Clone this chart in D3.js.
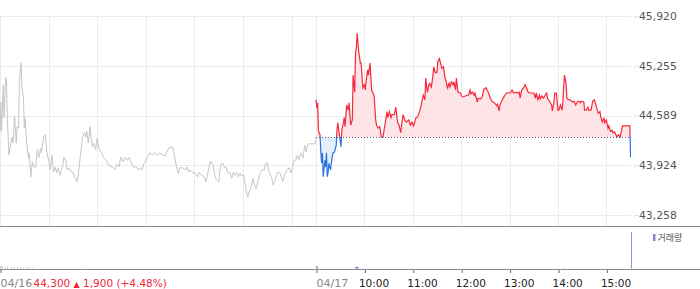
<!DOCTYPE html>
<html>
<head>
<meta charset="utf-8">
<script src="https://cdn.jsdelivr.net/npm/d3@7"></script>
<style>
  body { margin: 0; background: #fff; }
  svg { display: block; font-family: "DejaVu Sans", sans-serif; }
</style>
</head>
<body>
<div id="chart"></div>
<script>
// [minutes after 09:00, price] for each session
const day1 = [[0,44360],[1,44760],[2,44390],[4,45000],[5,44560],[7,45100],[8,45040],[9,44570],[11,44060],[14,44260],[15,44300],[16,44220],[18,44580],[20,44220],[21,44440],[23,44420],[24,45060],[26,45290],[27,44970],[29,44820],[30,44420],[31,44560],[33,44220],[35,44020],[36,44090],[38,43770],[40,43970],[42,43900],[44,43900],[46,44130],[48,44030],[50,44150],[51,44090],[54,44300],[56,44330],[58,44090],[60,43990],[62,43860],[64,44060],[66,43830],[68,43900],[70,43820],[72,43890],[74,43790],[77,43900],[79,44030],[81,43990],[83,43860],[85,43890],[88,43830],[90,43830],[92,43770],[95,43700],[97,43820],[99,44030],[101,44220],[102,44290],[104,44360],[106,44300],[107,44380],[109,44220],[111,44440],[112,44330],[114,44170],[116,44220],[118,44130],[120,44290],[122,44150],[125,44090],[128,44020],[131,43990],[134,43930],[137,43910],[140,43890],[142,43860],[144,43940],[147,43900],[149,44030],[152,43970],[154,44030],[157,43990],[159,44030],[161,43990],[163,43930],[165,43900],[168,43900],[171,43860],[173,43890],[175,43860],[178,43950],[182,44030],[185,44090],[188,44060],[191,44090],[194,44060],[197,44090],[201,44060],[204,44050],[208,44150],[213,44170],[215,44060],[218,43900],[220,43810],[222,43890],[225,43890],[229,43860],[231,43900],[233,43830],[235,43860],[238,43820],[241,43820],[244,43770],[246,43830],[249,43790],[252,43770],[254,43700],[256,43790],[258,43900],[260,43980],[263,43930],[265,43790],[267,43730],[270,43700],[271,43830],[273,43940],[275,43950],[277,43890],[279,43900],[281,43830],[284,43820],[286,43750],[288,43830],[290,43790],[292,43830],[294,43770],[296,43820],[298,43780],[301,43790],[302,43700],[304,43570],[306,43500],[307,43550],[310,43630],[312,43750],[314,43660],[316,43610],[318,43690],[320,43790],[322,43830],[324,43870],[326,43860],[328,43950],[330,43950],[332,43830],[335,43770],[337,43660],[340,43730],[342,43820],[345,43830],[347,43770],[349,43700],[352,43820],[354,43860],[357,43890],[359,43820],[361,43890],[363,43990],[365,43990],[367,44060],[369,43990],[371,44090],[374,44020],[376,44190],[378,44100],[380,44210],[389,44210],[390,44300]];

const day2 = [[0,44800],[1,44690],[2,44760],[3,44390],[5,44330],[6,44090],[7,43950],[8,44090],[9,43770],[11,43990],[12,43900],[13,44090],[14,43770],[15,43830],[16,43950],[18,43860],[20,44030],[21,44090],[23,44100],[25,44190],[26,44390],[27,44490],[29,44330],[31,44170],[32,44390],[33,44440],[35,44560],[36,44440],[38,44730],[40,44660],[41,44760],[43,44460],[45,44530],[46,45130],[48,44900],[49,45420],[50,45500],[51,45690],[53,45440],[55,45290],[56,45290],[58,44960],[60,45000],[61,44930],[62,45040],[64,45200],[65,45130],[67,45290],[69,44930],[70,44900],[72,44860],[74,44530],[75,44460],[77,44420],[79,44440],[81,44300],[83,44300],[86,44500],[88,44640],[89,44560],[91,44640],[93,44560],[94,44600],[97,44600],[99,44700],[101,44500],[103,44460],[105,44360],[107,44530],[108,44600],[110,44530],[112,44500],[115,44530],[117,44460],[119,44500],[121,44450],[124,44560],[126,44570],[129,44660],[131,44760],[133,44860],[135,44800],[136,45090],[138,44900],[140,45000],[141,45020],[143,44970],[145,45130],[146,45240],[148,45160],[150,45170],[151,45310],[153,45350],[155,45260],[156,45220],[158,45240],[160,45090],[161,45060],[163,44960],[165,45020],[166,44970],[168,45040],[170,45000],[171,45040],[173,44930],[174,45090],[176,44900],[179,44890],[181,44840],[183,44840],[187,44860],[189,44860],[191,44930],[192,44880],[194,44900],[196,44860],[197,44890],[200,44770],[201,44820],[204,44810],[206,44840],[208,44940],[211,44960],[212,44930],[214,44890],[216,44820],[219,44770],[221,44760],[224,44720],[225,44740],[227,44650],[228,44730],[231,44800],[233,44840],[236,44890],[238,44890],[241,44890],[243,44930],[245,44890],[248,44900],[250,44890],[252,44900],[253,44820],[255,44930],[258,44970],[259,45000],[261,44960],[263,44900],[265,44890],[268,44890],[270,44890],[272,44820],[273,44890],[275,44800],[277,44860],[278,44810],[280,44850],[282,44820],[284,44860],[286,44890],[287,44820],[290,44770],[292,44730],[293,44650],[295,44770],[296,44890],[298,44890],[300,44660],[301,44660],[303,44730],[305,44660],[306,44770],[307,44960],[308,45130],[310,45020],[311,44820],[313,44800],[315,44800],[318,44770],[320,44780],[322,44730],[324,44770],[326,44780],[328,44760],[329,44780],[332,44770],[333,44660],[335,44660],[337,44700],[338,44660],[341,44660],[343,44780],[345,44800],[347,44730],[348,44690],[350,44620],[352,44640],[353,44570],[355,44500],[357,44560],[358,44490],[360,44530],[362,44420],[363,44450],[365,44380],[367,44390],[368,44360],[370,44370],[372,44330],[373,44300],[375,44330],[377,44300],[380,44450],[389,44450],[390,44030]];

// volume (shares) at minutes after 09:00
const vol1 = [[0,3400],[1,3000],[3,2600],[6,2400],[9,2800],[13,2200],[17,2000],[21,2400],[25,2000],[29,1800],[33,1600],[36,1400],[40,1200],[101,1200]];
const vol2 = [[0,3800],[1,2400],[48,1800],[49,2600],[50,3000],[51,2200],[52,1600],[308,900],[390,52000]];

const prevClose = 44300;
const yTicks = [43258, 43924, 44589, 45255, 45920];
const dateLabels = ["04/16", "04/17"];
const hourLabels = ["10:00", "11:00", "12:00", "13:00", "14:00", "15:00"];
const lastPrice = "44,300";
const change = "1,900";
const changePct = "(+4.48%)";

const W = 700, H = 289;
const plotRight = 631;
const mainTop = 16, mainBottom = 226;
const volTop = 232, volBottom = 269;

const svg = d3.select("#chart").append("svg")
    .attr("width", W).attr("height", H);

// two sessions side by side: minute 0..390 is 04/16, 390..780 is 04/17
const x = d3.scaleLinear().domain([0, 390, 780]).range([0, 316, 630.6]);
const y = d3.scaleLinear().domain([43258, 45920]).range([215, 16]);

const s1 = day1.map(d => ({ t: d[0], p: d[1] }));
const s2 = day2.map(d => ({ t: d[0] + 390, p: d[1] }));

// grid
const gridMins = d3.range(0, 361, 60).concat(d3.range(390, 751, 60));
svg.append("g").selectAll("line").data(yTicks).join("line")
    .attr("x1", 0).attr("x2", plotRight)
    .attr("y1", d => Math.round(y(d)) + 0.5).attr("y2", d => Math.round(y(d)) + 0.5)
    .attr("stroke", "#ebebeb");
svg.append("g").selectAll("line").data(gridMins).join("line")
    .attr("x1", d => Math.round(x(d)) + 0.5).attr("x2", d => Math.round(x(d)) + 0.5)
    .attr("y1", mainTop).attr("y2", mainBottom)
    .attr("stroke", "#ebebeb");

// y axis labels on the right
const yAxis = svg.append("g").attr("transform", `translate(${plotRight + 3},0)`)
    .call(d3.axisRight(y).tickValues(yTicks).tickSize(4).tickPadding(1).tickFormat(d3.format(",")));
yAxis.select(".domain").remove();
yAxis.selectAll(".tick line").attr("stroke", "#e0e0e0");
yAxis.selectAll("text").attr("fill", "#555").style("font-size", "10.8px").style("font-family", "DejaVu Sans");

// clip regions above / below previous close
const by = y(prevClose);
const defs = svg.append("defs");
defs.append("clipPath").attr("id", "above").append("rect")
    .attr("x", 0).attr("y", 0).attr("width", plotRight).attr("height", by);
defs.append("clipPath").attr("id", "below").append("rect")
    .attr("x", 0).attr("y", by).attr("width", plotRight).attr("height", mainBottom - by);

const line = d3.line().x(d => x(d.t)).y(d => y(d.p));
const area = d3.area().x(d => x(d.t)).y0(by).y1(d => y(d.p));

// previous session in gray
svg.append("path").datum(s1).attr("d", line)
    .attr("fill", "none").attr("stroke", "#c6c6ca").attr("stroke-width", 1);

// today: fills
svg.append("path").datum(s2).attr("d", area).attr("clip-path", "url(#above)")
    .attr("fill", "#fde4e7");
svg.append("path").datum(s2).attr("d", area).attr("clip-path", "url(#below)")
    .attr("fill", "#e5eefb");

// baseline
svg.append("line")
    .attr("x1", x(390)).attr("x2", x(780))
    .attr("y1", Math.round(by) + 0.5).attr("y2", Math.round(by) + 0.5)
    .attr("stroke", "#555").attr("stroke-dasharray", "1,2");

// today: lines
svg.append("path").datum(s2).attr("d", line).attr("clip-path", "url(#above)")
    .attr("fill", "none").attr("stroke", "#f8283c").attr("stroke-width", 1.2);
svg.append("path").datum(s2).attr("d", line).attr("clip-path", "url(#below)")
    .attr("fill", "none").attr("stroke", "#2b72dc").attr("stroke-width", 1.2);

// pane separator
svg.append("line").attr("x1", 0).attr("x2", W)
    .attr("y1", mainBottom + 0.5).attr("y2", mainBottom + 0.5).attr("stroke", "#8a8a8a");

// volume
const v1 = vol1.map(d => ({ t: d[0], v: d[1] }));
const v2 = vol2.map(d => ({ t: d[0] + 390, v: d[1] }));
const vy = d3.scaleLinear().domain([0, d3.max(v2, d => d.v)]).range([volBottom - 0.5, volTop]);
svg.append("g").selectAll("line").data(v1).join("line")
    .attr("x1", d => Math.round(x(d.t)) + 0.5).attr("x2", d => Math.round(x(d.t)) + 0.5)
    .attr("y1", vy(0)).attr("y2", d => vy(d.v))
    .attr("stroke", "#c8c8d2");
svg.append("g").selectAll("line").data(v2).join("line")
    .attr("x1", d => Math.round(x(d.t)) + 0.5).attr("x2", d => Math.round(x(d.t)) + 0.5)
    .attr("y1", vy(0)).attr("y2", d => vy(d.v))
    .attr("stroke", "#9a8bd6");

// legend
svg.append("rect").attr("x", 653).attr("y", 234).attr("width", 2.5).attr("height", 7)
    .attr("fill", "#8f80d0");
svg.append("text").attr("x", 657.5).attr("y", 241)
    .style("font-family", "'Noto Sans CJK KR', sans-serif").style("font-size", "9px")
    .attr("fill", "#555").text("거래량");

// bottom time axis
const tickMins = [0, 390].concat(d3.range(450, 751, 60));
const labels = dateLabels.concat(hourLabels);
const xAxis = svg.append("g").attr("transform", `translate(0,${volBottom})`)
    .call(d3.axisBottom(x).tickValues(tickMins).tickSize(4).tickFormat((d, i) => labels[i]));
xAxis.select(".domain").remove();
xAxis.selectAll(".tick line").attr("stroke", "#666")
    .attr("transform", "translate(0.5,0)");
xAxis.selectAll("text")
    .attr("text-anchor", "start")
    .attr("dy", 0).attr("y", 17.5)
    .attr("x", (d, i) => i < 2 ? 0 : -6)
    .attr("fill", (d, i) => i < 2 ? "#888" : "#222")
    .style("font-size", (d, i) => i < 2 ? "11px" : "10.5px")
    .style("font-family", "DejaVu Sans");
svg.append("line").attr("x1", 0).attr("x2", W)
    .attr("y1", volBottom + 0.5).attr("y2", volBottom + 0.5).attr("stroke", "#8a8a8a");

// last price info
const info = svg.append("text").attr("x", 33.5).attr("y", 286.5)
    .attr("fill", "#f0283a").style("font-size", "10.5px");
info.append("tspan").text(lastPrice + " ");
info.append("tspan").style("font-size", "8px").text("▲");
info.append("tspan").text(" " + change + " " + changePct);
</script>
</body>
</html>
